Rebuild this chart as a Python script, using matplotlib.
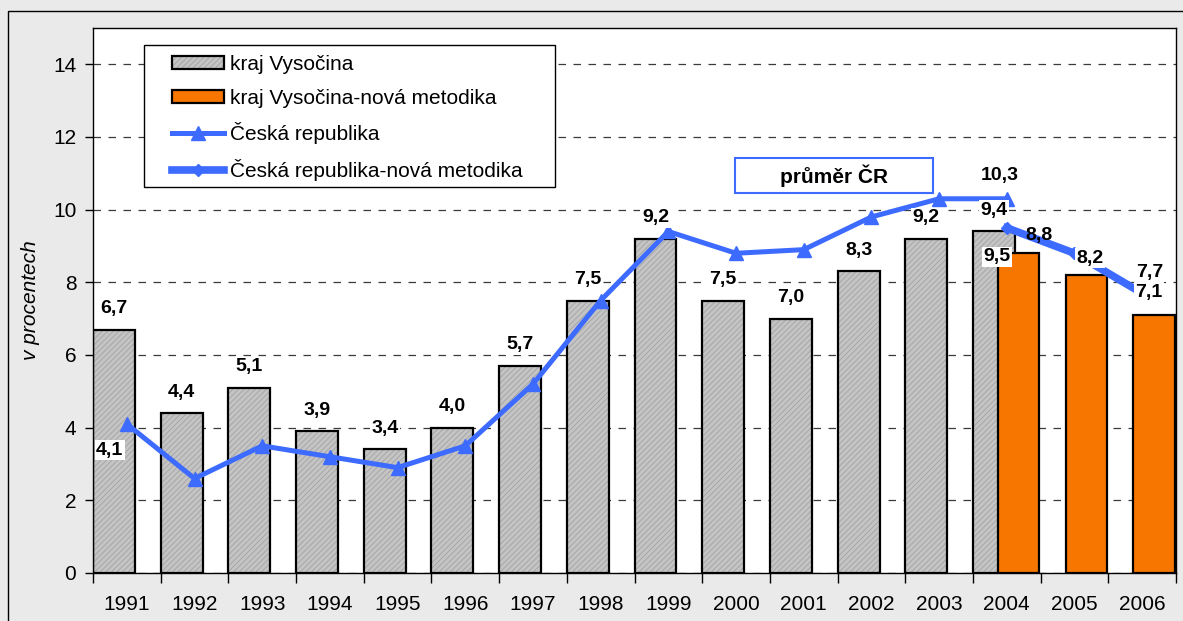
import matplotlib
matplotlib.use("Agg")
import matplotlib.pyplot as plt
from matplotlib.patches import Patch, Rectangle
from matplotlib.lines import Line2D
from matplotlib.legend_handler import HandlerTuple
from matplotlib.ticker import FixedLocator

plt.rcParams['font.family'] = ['Liberation Sans', 'DejaVu Sans']
plt.rcParams['hatch.linewidth'] = 0.6

# data
years = ["1991", "1992", "1993", "1994", "1995", "1996", "1997", "1998",
         "1999", "2000", "2001", "2002", "2003", "2004", "2005", "2006"]
kraj = [6.7, 4.4, 5.1, 3.9, 3.4, 4.0, 5.7, 7.5, 9.2, 7.5, 7.0, 8.3, 9.2, 9.4]
kraj_nova = [8.8, 8.2, 7.1]            # 2004-2006
cr = [4.1, 2.6, 3.5, 3.2, 2.9, 3.5, 5.2, 7.5, 9.4, 8.8, 8.9, 9.8, 10.3, 10.3]
cr_nova = [9.5, 8.8, 7.7]              # 2004-2006

GREY = '#C4C4C4'
ORANGE = '#F77600'
BLUE = '#3D6BFF'
FS = 15

def fmt(v):
    return f"{v:.1f}".replace('.', ',')

W, H = 1183, 621
AX_L, AX_R, AX_T, AX_B = 93, 1176, 28, 573
fig = plt.figure(figsize=(W / 100, H / 100), dpi=100, facecolor='#EAEAEA')
ax = fig.add_axes([AX_L / W, 1 - AX_B / H, (AX_R - AX_L) / W, (AX_B - AX_T) / H])
fig.patches.append(Rectangle((8 / W, -0.1), 1.2, 1 - 11 / H + 0.1,
                             transform=fig.transFigure, fill=False,
                             edgecolor='black', lw=1))

def axpx(x, y):
    # pixel position -> axes fraction
    return (x - AX_L) / (AX_R - AX_L), (AX_B - y) / (AX_B - AX_T)

x_old = list(range(len(kraj)))
x_new = list(range(13, 16))
xg = [i - 0.19 for i in x_old]
xo = [i + 0.175 for i in x_new]

ax.bar(xg, kraj, width=0.62, color=GREY, hatch='//////', edgecolor='#A2A2A2',
       lw=0, zorder=2)
ax.bar(xg, kraj, width=0.62, fill=False, edgecolor='black', lw=1.6, zorder=2.1)
ax.bar(xo, kraj_nova, width=0.61, color=ORANGE, edgecolor='black', lw=1.6,
       zorder=2.2)

ax.plot(x_old, cr, color=BLUE, lw=3.6, marker='^', ms=10, zorder=3)
ax.plot(x_new, cr_nova, color=BLUE, lw=5.5, marker='D', ms=6, zorder=3)

box = dict(boxstyle='square,pad=0.08', fc='white', ec='none')

def label(x, v, dx, dy, bg=True):
    ax.annotate(fmt(v), xy=(x, v), xytext=(dx * 0.72, -dy * 0.72),
                textcoords='offset points', ha='center', va='center',
                fontsize=14, fontweight='bold', zorder=4,
                bbox=box if bg else None)

for x, v in zip(xg, kraj):
    label(x, v, 0, -21)

# orange bar labels (pixel offsets)
label(xo[0], kraj_nova[0], 20, -18, bg=False)
label(xo[1], kraj_nova[1], 4, -17)
label(xo[2], kraj_nova[2], -5, -23)

# line labels
label(0, cr[0], -17, 26)
label(13, cr[13], -7, -23)
label(13, cr_nova[0], -10, 29)
label(15, cr_nova[2], 8, -21)

# "průměr ČR" box
bx0, by0 = axpx(735, 193)
bx1, by1 = axpx(933, 158)
ax.add_patch(Rectangle((bx0, by0), bx1 - bx0, by1 - by0, transform=ax.transAxes,
                       fc='white', ec=BLUE, lw=1.5, zorder=4))
ax.text((bx0 + bx1) / 2, (by0 + by1) / 2, "průměr ČR", transform=ax.transAxes,
        ha='center', va='center', fontsize=FS, fontweight='bold', zorder=5)

ax.set_xlim(-0.5, 15.5)
ax.set_ylim(0, 15)
ax.set_yticks(range(0, 15, 2))
ax.set_xticks(range(16))
ax.set_xticklabels(years)
ax.xaxis.set_minor_locator(FixedLocator([i - 0.5 for i in range(17)]))
ax.tick_params(axis='x', which='major', length=0, pad=16, labelsize=FS)
ax.tick_params(axis='x', which='minor', length=7, width=1, color='black')
ax.tick_params(axis='y', length=6, width=1, pad=6, labelsize=FS)
ax.yaxis.grid(True, linestyle=(0, (6, 6)), color='#3A3A3A', lw=0.9)
ax.set_axisbelow(True)
for s in ax.spines.values():
    s.set_color('black')
    s.set_linewidth(1)

ax.set_ylabel("v procentech", fontsize=FS, fontstyle='italic')
ax.yaxis.set_label_coords(axpx(40, 0)[0], 0.5)

# legend: frame drawn by hand
lx0, ly0 = axpx(144, 187)
lx1, ly1 = axpx(555, 45)
ax.add_patch(Rectangle((lx0, ly0), lx1 - lx0, ly1 - ly0, transform=ax.transAxes,
                       fc='white', ec='black', lw=1, zorder=4.9))
handles = [
    (Patch(facecolor=GREY, hatch='//////', edgecolor='#A2A2A2', lw=0),
     Patch(fill=False, edgecolor='black', lw=1.6)),
    Patch(facecolor=ORANGE, edgecolor='black', lw=1.6),
    Line2D([], [], color=BLUE, lw=3.6, marker='^', ms=10),
    Line2D([], [], color=BLUE, lw=5.5, marker='D', ms=6),
]
names = ["kraj Vysočina", "kraj Vysočina-nová metodika", "Česká republika",
         "Česká republika-nová metodika"]
leg = ax.legend(handles, names, handler_map={tuple: HandlerTuple(ndivide=1)},
                loc='upper left', bbox_to_anchor=axpx(172, 55),
                borderaxespad=0, borderpad=0, fontsize=FS, frameon=False,
                handlelength=2.5, handleheight=0.6, handletextpad=0.3,
                labelspacing=0.7, numpoints=1)
leg.set_zorder(5)

fig.savefig("out.png", dpi=100, facecolor=fig.get_facecolor())
